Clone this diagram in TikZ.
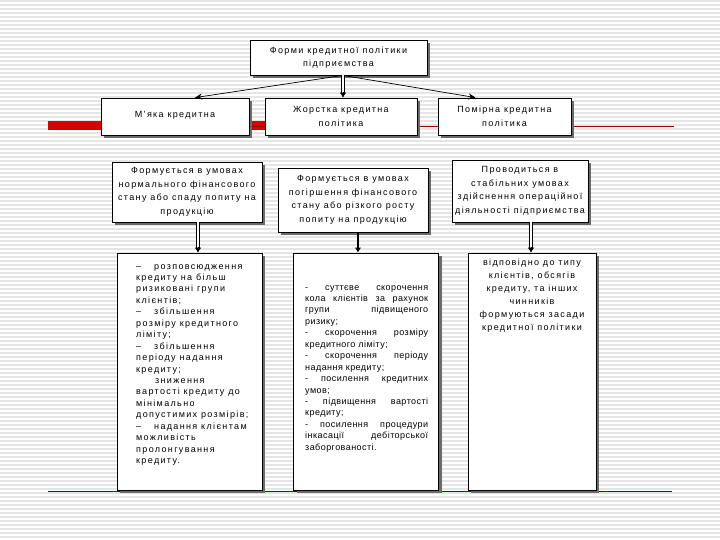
\documentclass[tikz,border=0pt]{standalone}
\usepackage{fontspec}
\setmainfont{Liberation Sans}[LetterSpace=15]
\usetikzlibrary{shadows,arrows.meta,calc}
\newcommand\jl[1]{\makebox[123pt][s]{#1}\\}
\begin{document}
\begin{tikzpicture}[x=1pt,y=-1pt,
  stripe/.style={draw=black!10, line width=1.2pt},
  box/.style={draw=black, line width=0.8pt, fill=white, inner sep=0pt, align=center,
    general shadow={fill=black!58, shadow xshift=3pt, shadow yshift=-3pt},
    font=\fontsize{9}{13.6}\selectfont},
  txt/.style={inner sep=0pt, font=\fontsize{9}{11.45}\selectfont},
  conn/.style={draw=black, line width=0.7pt, -{Stealth[length=7pt,width=6pt]}},
  dbl/.style={draw=black, double=white, double distance=1.6pt, line width=0.8pt},
  tip/.style={draw=black, line width=0.6pt, -{Latex[length=5pt,width=6.5pt]}}
]
\useasboundingbox (0,0) rectangle (720,540);
\fill[white] (0,0) rectangle (720,540);
\foreach \yy in {1,5,...,540} \draw[stripe] (0,\yy) -- (720,\yy);

% red rule lines
\draw[red!85!black, line width=9pt] (48,126) -- (265,126);
\draw[red!60!black, line width=0.8pt] (250,126) -- (674,126);
\draw[red!45!black, line width=1pt] (48,491) -- (672,491);

% top
\node[box, minimum width=177pt, minimum height=35pt] (top) at (338.5,57.5)
  {Форми кредитної політики\\підприємства};

% row 2
\node[box, minimum width=148pt, minimum height=37pt] (l2) at (175,116.5) {\raisebox{5pt}{М’яка кредитна}};
\node[box, minimum width=152pt, minimum height=37pt] (m2) at (341,116.5) {Жорстка кредитна\\політика};
\node[box, minimum width=133pt, minimum height=37pt] (r2) at (504.5,116.5) {Помірна кредитна\\політика};

% row 3
\node[box, minimum width=150pt, minimum height=60pt] (l3) at (187,192)
  {Формується в умовах\\нормального фінансового\\стану або спаду попиту на\\продукцію};
\node[box, minimum width=150pt, minimum height=64pt] (m3) at (353,200)
  {Формується в умовах\\погіршення фінансового\\стану або різкого росту\\попиту на продукцію};
\node[box, minimum width=136pt, minimum height=62pt] (r3) at (520,191)
  {Проводиться в\\стабільних умовах\\здійснення операційної\\діяльності підприємства};

% row 4
\node[box, minimum width=145pt, minimum height=237pt] (l4) at (189.5,371.5) {};
\node[box, minimum width=145pt, minimum height=237pt] (m4) at (366,371.5) {};
\node[box, minimum width=128pt, minimum height=237pt] (r4) at (532,371.5) {};

\node[txt, anchor=north west, align=left] (l4t) at (136,264)
  {–\hspace{13pt}розповсюдження\\
   кредиту на більш\\
   ризиковані групи\\
   клієнтів;\\
   –\hspace{13pt}збільшення\\
   розміру кредитного\\
   ліміту;\\
   –\hspace{13pt}збільшення\\
   періоду надання\\
   кредиту;\\
   \hspace*{19pt}зниження\\
   вартості кредиту до\\
   мінімально\\
   допустимих розмірів;\\
   –\hspace{13pt}надання клієнтам\\
   можливість\\
   пролонгування\\
   кредиту.};

\node[txt, anchor=north west, align=left, font=\fontsize{9}{11.45}\selectfont\addfontfeature{LetterSpace=5}] (m4t) at (305,285)
  {\jl{- суттєве скорочення}
   \jl{кола клієнтів за рахунок}
   \jl{групи підвищеного}
   ризику;\\
   \jl{- скорочення розміру}
   кредитного ліміту;\\
   \jl{- скорочення періоду}
   надання кредиту;\\
   \jl{- посилення кредитних}
   умов;\\
   \jl{- підвищення вартості}
   кредиту;\\
   \jl{- посилення процедури}
   \jl{інкасації дебіторської}
   заборгованості.};

\node[txt, anchor=north, align=center, font=\fontsize{9}{13}\selectfont] (r4t) at ($(r4.north)+(0,6)$)
  {відповідно до типу\\клієнтів, обсягів\\кредиту, та інших\\чинників\\формуються засади\\кредитної політики};

% connectors top -> row 2
\coordinate (o) at ($(top.south)+(4.5,0)$);
\draw[conn] (o) -- ($(l2.north)+(20,0)$);
\draw[conn] (o) -- ($(r2.north)+(-29,0)$);
\coordinate (mt) at ($(m2.north)+(2,0)$);
\draw[dbl] (o) -- ($(mt)+(0,-5)$);
\draw[tip] ($(mt)+(0,-5.5)$) -- (mt);

% connectors row 3 -> row 4
\coordinate (a1) at ($(l3.south)+(11,0)$);
\coordinate (b1) at (a1 |- l4.north);
\draw[dbl] (a1) -- ($(b1)+(0,-5)$);
\draw[tip] ($(b1)+(0,-5.5)$) -- (b1);

\coordinate (a2) at ($(m3.south)+(5,0)$);
\coordinate (b2) at (a2 |- m4.north);
\draw[tip, line width=1.4pt] (a2) -- (b2);

\coordinate (a3) at ($(r3.south)+(11,0)$);
\coordinate (b3) at (a3 |- r4.north);
\draw[dbl] (a3) -- ($(b3)+(0,-5)$);
\draw[tip] ($(b3)+(0,-5.5)$) -- (b3);
\end{tikzpicture}
\end{document}
